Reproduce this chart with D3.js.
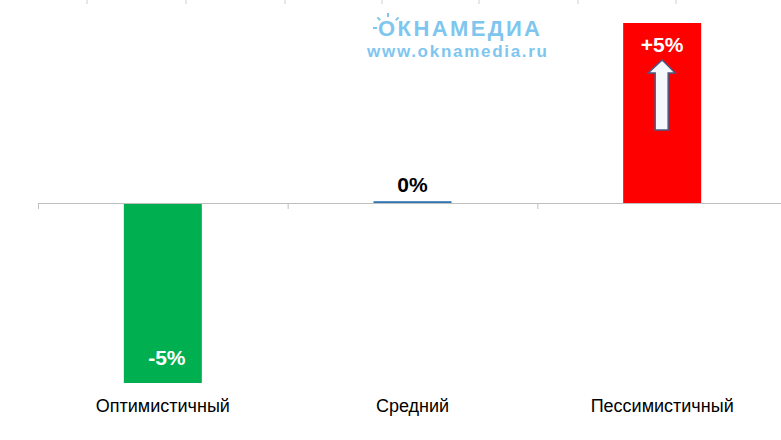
<!DOCTYPE html>
<html><head><meta charset="utf-8">
<script src="https://cdn.jsdelivr.net/npm/d3@7"></script>
<style>body{margin:0;background:#fff}svg{display:block}</style>
</head><body><svg id="c" width="781" height="440"></svg>
<script>
const categories = ["Оптимистичный", "Средний", "Пессимистичный"];
const values = [-5, 0.05, 5];
const labels = ["-5%", "0%", "+5%"];
const colors = ["#00b050", "#2e75b6", "#ff0000"];

const svg = d3.select("#c");
const x = d3.scaleBand().domain(categories).range([38, 787]).paddingInner(0).paddingOuter(0);
const y = d3.scaleLinear().domain([-5, 5]).range([383, 23]);
const bw = 78;

[87,186,285,382,479,578,676].forEach(v=>svg.append("line").attr("x1",v).attr("x2",v).attr("y1",0).attr("y2",4).attr("stroke","#d0d0d0"));

svg.selectAll("rect.bar").data(values).join("rect")
  .attr("x",(d,i)=>x(categories[i])+x.bandwidth()/2-bw/2)
  .attr("width",bw)
  .attr("y",d=>y(Math.max(0,d)))
  .attr("height",d=>Math.abs(y(d)-y(0)))
  .attr("fill",(d,i)=>colors[i]);

const ax = svg.append("g").attr("transform",`translate(0,${y(0)})`)
  .call(d3.axisBottom(x).tickSize(0).tickFormat(""));
ax.select(".domain").attr("stroke","#bfbfbf");
x.domain().forEach(c=>svg.append("line").attr("x1",x(c)+0.5).attr("x2",x(c)+0.5).attr("y1",y(0)).attr("y2",y(0)+6).attr("stroke","#bfbfbf"));

svg.selectAll("text.cat").data(categories).join("text")
  .attr("x",d=>x(d)+x.bandwidth()/2).attr("y",412)
  .attr("text-anchor","middle").attr("font-family","Liberation Sans, Arial").attr("font-size",18).attr("fill","#000").text(d=>d);

const ly = [y(-5)-18, y(0)-11, y(5)+29];
svg.selectAll("text.val").data(labels).join("text")
  .attr("x",(d,i)=>x(categories[i])+x.bandwidth()/2+[4,0,0][i]).attr("y",(d,i)=>ly[i])
  .attr("text-anchor","middle").attr("font-family","Liberation Sans, Arial").attr("font-weight","bold").attr("font-size",21)
  .attr("fill",(d,i)=>i===1?"#000":"#fff").text(d=>d);

const cx = x(categories[2])+x.bandwidth()/2;
svg.append("path").attr("d",`M${cx},60 L${cx+13},73 L${cx+6},73 L${cx+6},130 L${cx-7},130 L${cx-7},73 L${cx-14},73 Z`)
  .attr("fill","#f4f7fc").attr("stroke","#4a5a82").attr("stroke-width",1.5);

const lg = svg.append("g").attr("fill","#7fc6ef");
lg.append("text").attr("x",378).attr("y",36).attr("font-family","Liberation Sans, Arial").attr("font-weight","bold").attr("font-size",22).attr("textLength",162).text("ОКНАМЕДИА");
const sun = svg.append("g").attr("stroke","#7fc6ef").attr("stroke-width",2);
[-90,-45,-135,180].forEach(a=>{const r=Math.PI*a/180;sun.append("line").attr("x1",388+Math.cos(r)*11).attr("y1",28+Math.sin(r)*11).attr("x2",388+Math.cos(r)*15).attr("y2",28+Math.sin(r)*15);});
lg.append("text").attr("x",367).attr("y",57).attr("font-family","Liberation Sans, Arial").attr("font-weight","bold").attr("font-size",17).attr("textLength",180).text("www.oknamedia.ru");
</script></body></html>
